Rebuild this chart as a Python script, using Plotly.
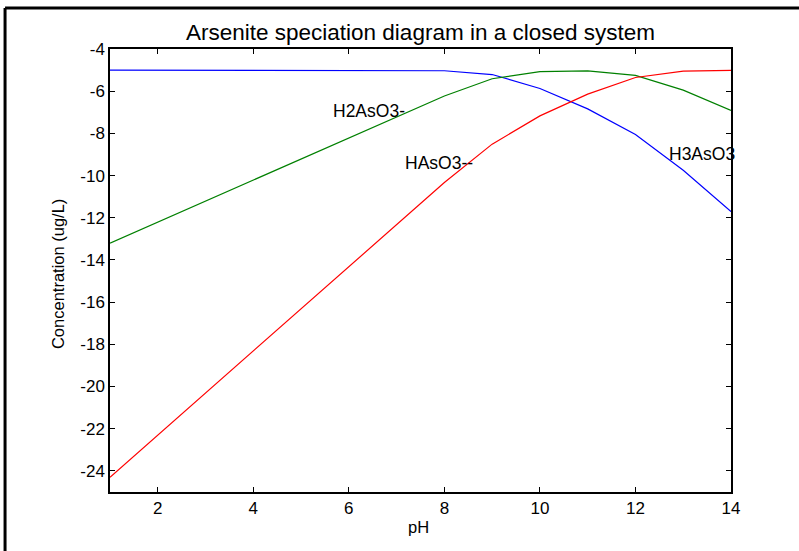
import plotly.graph_objects as go

# pH values and log concentrations of arsenite species (closed system)
ph = [1, 2, 3, 4, 5, 6, 7, 8, 9, 10, 11, 12, 13, 14]
h3aso3 = [-5.0, -5.0, -5.0, -5.0, -5.0, -5.0, -5.0, -5.03, -5.21, -5.87, -6.84, -8.05, -9.75, -11.71]
h2aso3 = [-13.2, -12.2, -11.2, -10.2, -9.2, -8.2, -7.2, -6.23, -5.41, -5.07, -5.04, -5.25, -5.95, -6.91]
haso3 = [-24.3, -22.3, -20.3, -18.3, -16.3, -14.3, -12.3, -10.33, -8.51, -7.17, -6.14, -5.35, -5.05, -5.01]

x_ticks = [2, 4, 6, 8, 10, 12, 14]
y_ticks = [-24, -22, -20, -18, -16, -14, -12, -10, -8, -6, -4]

# species labels: (text, pH, log concentration)
labels = [
    ("H2AsO3-", 5.65, -6.95),
    ("HAsO3--", 7.15, -9.40),
    ("H3AsO3", 12.68, -8.98),
]

FONT = "Liberation Sans, Arial, sans-serif"

fig = go.Figure()
fig.add_trace(go.Scatter(x=ph, y=h3aso3, mode="lines", line=dict(color="#0000ff", width=1.2), name="H3AsO3"))
fig.add_trace(go.Scatter(x=ph, y=h2aso3, mode="lines", line=dict(color="#008000", width=1.2), name="H2AsO3-"))
fig.add_trace(go.Scatter(x=ph, y=haso3, mode="lines", line=dict(color="#ff0000", width=1.2), name="HAsO3--"))

for text, xv, yv in labels:
    fig.add_annotation(x=xv, y=yv, text=text, showarrow=False, xanchor="left", yanchor="middle",
                       font=dict(family=FONT, size=17.5, color="black"), borderpad=0)

axis_common = dict(
    showgrid=False, zeroline=False, showline=True, linecolor="black", linewidth=1.5,
    mirror="ticks", ticks="inside", ticklen=5, tickcolor="black", tickwidth=1,
    tickfont=dict(family=FONT, size=17, color="black"),
)

fig.update_xaxes(range=[1, 14], tickvals=x_ticks, ticktext=[str(v) for v in x_ticks], **axis_common)
fig.update_yaxes(range=[-25, -4], tickvals=y_ticks, ticktext=[str(v) for v in y_ticks], **axis_common)

# axis titles
fig.add_annotation(xref="paper", yref="paper", x=0.497, y=-0.079, text="pH", showarrow=False,
                   xanchor="center", yanchor="middle", font=dict(family=FONT, size=16.5, color="black"))
fig.add_annotation(xref="paper", yref="paper", x=-0.0837, y=0.492, text="Concentration (ug/L)", showarrow=False,
                   textangle=-90, xanchor="center", yanchor="middle",
                   font=dict(family=FONT, size=16.5, color="black"))

# outer frame lines along the top and left edges of the figure
fig.add_shape(type="line", xref="paper", yref="paper", x0=-0.169, y0=1.0926, x1=1.2, y1=1.0926,
              line=dict(color="black", width=3))
fig.add_shape(type="line", xref="paper", yref="paper", x0=-0.169, y0=1.0926, x1=-0.169, y1=-0.2,
              line=dict(color="black", width=3))

fig.update_layout(
    width=799, height=551,
    margin=dict(l=110, r=68, t=49, b=59),
    paper_bgcolor="white", plot_bgcolor="white",
    showlegend=False,
    title=dict(text="Arsenite speciation diagram in a closed system", x=(110 + 621 / 2) / 799, xanchor="center",
               y=1 - 32 / 551, yanchor="middle", font=dict(family=FONT, size=22.5, color="black")),
)

fig.write_html("out.html")
